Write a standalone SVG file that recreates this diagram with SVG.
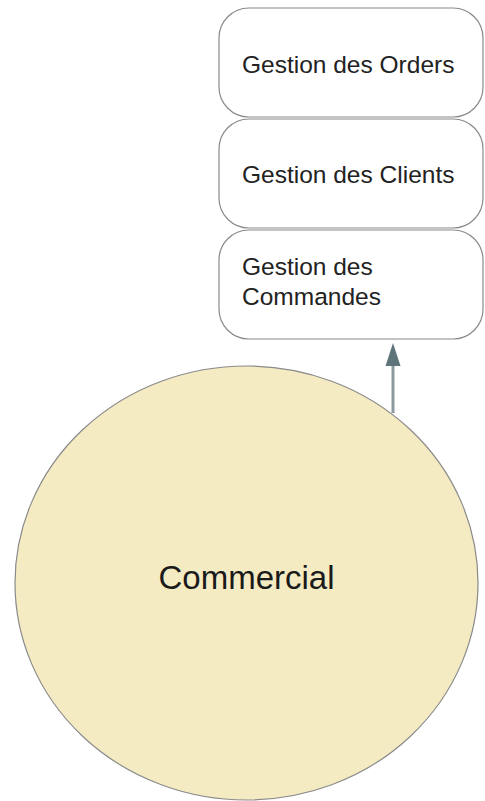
<svg xmlns="http://www.w3.org/2000/svg" width="485" height="801" viewBox="0 0 485 801">
<style>
.box{fill:#fff;stroke:#8a8a8a;stroke-width:1.2}
.lbl{font-family:"Liberation Sans",Arial,sans-serif;font-size:24.5px;fill:#222}
.big{font-family:"Liberation Sans",Arial,sans-serif;font-size:33px;fill:#1a1a1a;text-anchor:middle}
</style>
<g id="connectors">
<line x1="393" y1="413" x2="393" y2="366" stroke="#8a9a9e" stroke-width="3"/>
<path d="M385.5,366 L393,343 L400.5,366 Z" fill="#5f7479"/>
</g>
<g id="orders">
<rect class="box" x="219" y="8" width="264" height="109" rx="30"/>
<text class="lbl" x="242" y="73">Gestion des Orders</text>
</g>
<g id="clients">
<rect class="box" x="219" y="119" width="264" height="109" rx="30"/>
<text class="lbl" x="242" y="183">Gestion des Clients</text>
</g>
<g id="commandes">
<rect class="box" x="219" y="230" width="264" height="109" rx="30"/>
<text class="lbl" x="242" y="275">Gestion des</text>
<text class="lbl" x="242" y="305">Commandes</text>
</g>
<g id="commercial">
<ellipse cx="246.5" cy="583" rx="231.5" ry="217" fill="#f5ebc3" stroke="#8a8a8a" stroke-width="1.2"/>
<text class="big" x="246.5" y="589">Commercial</text>
</g>
</svg>
